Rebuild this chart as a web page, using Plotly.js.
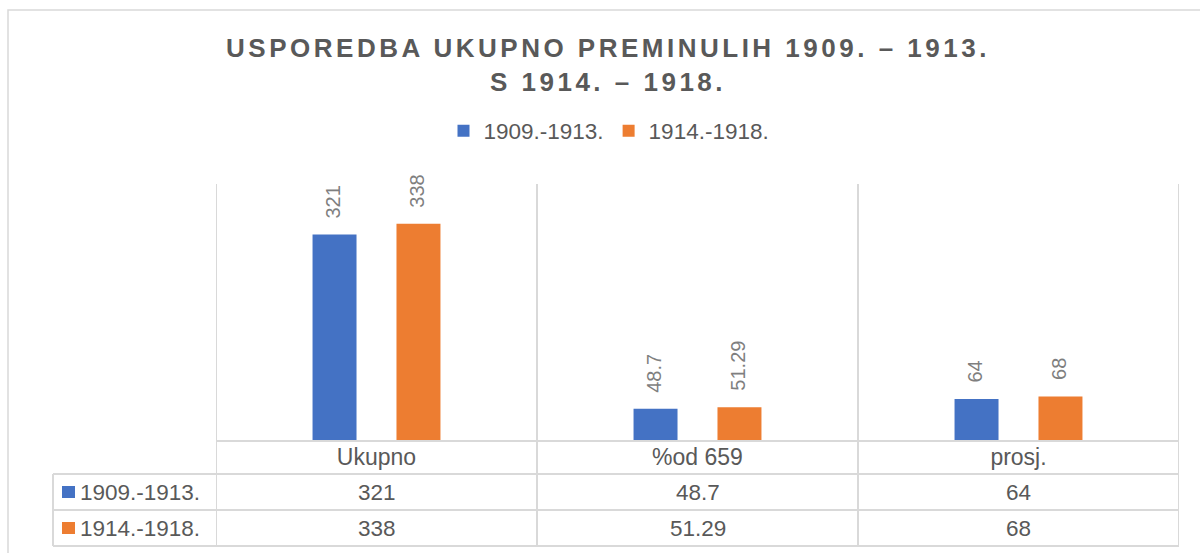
<!DOCTYPE html>
<html>
<head>
<meta charset="utf-8">
<script src="https://cdn.plot.ly/plotly-3.0.1.min.js"></script>
<style>
  html, body { margin: 0; padding: 0; background: #fff; }
  .gtitle { letter-spacing: 3.5px; }
</style>
</head>
<body>
<div id="chart" style="width:1200px;height:553px;"></div>
<script>
// ---- data ----
const categories = ['Ukupno', '%od 659', 'prosj.'];
const seriesNames = ['1909.-1913.', '1914.-1918.'];
const values1909 = [321, 48.7, 64];
const values1914 = [338, 51.29, 68];
const seriesValues = [values1909, values1914];
const seriesColors = ['#4472c4', '#ed7d31'];

// ---- geometry helpers (pixel -> paper) ----
const L = 216, R = 1179, T = 184, B = 440;
const px2x = p => (p - L) / (R - L);
const px2y = p => (B - p) / (B - T);

const FONT = 'Liberation Sans, Arial, sans-serif';
const TXT = '#595959';
const GRID = '#d9d9d9';

const traces = seriesNames.map((name, i) => ({
  type: 'bar',
  name: name,
  x: categories,
  y: seriesValues[i],
  marker: { color: seriesColors[i] },
  hoverinfo: 'none'
}));

const shapes = [];
const annotations = [];

// chart border
shapes.push({ type: 'rect', xref: 'paper', yref: 'paper',
  x0: px2x(8), x1: px2x(1230), y0: px2y(10), y1: px2y(580),
  line: { color: GRID, width: 1.5 }, fillcolor: 'rgba(0,0,0,0)', layer: 'below' });

// vertical category separators (plot + table)
for (let k = 0; k <= categories.length; k++) {
  shapes.push({ type: 'line', xref: 'x', yref: 'paper',
    x0: k - 0.5, x1: k - 0.5, y0: px2y(546), y1: 1,
    line: { color: GRID, width: 2 } });
}
// table horizontal lines
[474, 510, 546].forEach(p => {
  shapes.push({ type: 'line', xref: 'paper', yref: 'paper',
    x0: px2x(53), x1: 1, y0: px2y(p), y1: px2y(p),
    line: { color: GRID, width: 2 } });
});
// table left edge
shapes.push({ type: 'line', xref: 'paper', yref: 'paper',
  x0: px2x(53), x1: px2x(53), y0: px2y(474), y1: px2y(546),
  line: { color: GRID, width: 2 } });

// table rows
const rowCenters = [492, 528];
seriesNames.forEach((name, i) => {
  const yc = rowCenters[i];
  shapes.push({ type: 'rect', xref: 'paper', yref: 'paper',
    x0: px2x(62), x1: px2x(75), y0: px2y(yc - 6), y1: px2y(yc + 6),
    line: { width: 0 }, fillcolor: seriesColors[i] });
  annotations.push({ xref: 'paper', yref: 'paper', x: px2x(78), y: px2y(yc),
    xanchor: 'left', yanchor: 'middle', showarrow: false, text: name,
    font: { family: FONT, size: 22.5, color: TXT } });
  categories.forEach((c, j) => {
    annotations.push({ xref: 'x', yref: 'paper', x: c, y: px2y(yc),
      xanchor: 'center', yanchor: 'middle', showarrow: false,
      text: String(seriesValues[i][j]),
      font: { family: FONT, size: 22.5, color: TXT } });
  });
});

// data labels (rotated)
seriesNames.forEach((name, i) => {
  categories.forEach((c, j) => {
    annotations.push({ xref: 'x', yref: 'y', x: c, y: seriesValues[i][j],
      xshift: i === 0 ? -43 : 41, yshift: 14,
      xanchor: 'center', yanchor: 'bottom', showarrow: false, textangle: -90,
      text: String(seriesValues[i][j]),
      font: { family: FONT, size: 20, color: '#7f7f7f' } });
  });
});

const layout = {
  width: 1200, height: 553, autosize: false,
  margin: { l: L, r: 1200 - R, t: T, b: 553 - B, pad: 0 },
  paper_bgcolor: '#ffffff', plot_bgcolor: '#ffffff',
  font: { family: FONT, color: TXT },
  title: {
    text: 'USPOREDBA UKUPNO PREMINULIH 1909. – 1913.<br>S 1914. – 1918.',
    font: { family: FONT, size: 26, color: TXT, weight: 'bold' },
    x: 608 / 1200, xref: 'container', xanchor: 'center',
    y: 1 - 57 / 553, yref: 'container', yanchor: 'top'
  },
  barmode: 'group',
  bargap: 0.477,
  bargroupgap: 0.476,
  showlegend: true,
  legend: {
    orientation: 'h', x: px2x(609), xanchor: 'center',
    y: px2y(131), yanchor: 'middle',
    font: { family: FONT, size: 22.5, color: TXT },
    bgcolor: 'rgba(0,0,0,0)'
  },
  xaxis: {
    type: 'category', range: [-0.5, 2.5], fixedrange: true,
    showgrid: false, zeroline: false,
    showline: true, linecolor: GRID, linewidth: 2,
    ticks: '', ticklabelstandoff: -5,
    tickfont: { family: FONT, size: 23, color: TXT }
  },
  yaxis: {
    range: [0, 400], fixedrange: true, visible: false,
    showgrid: false, zeroline: false
  },
  shapes: shapes,
  annotations: annotations
};

Plotly.newPlot('chart', traces, layout, { displayModeBar: false, staticPlot: true });
</script>
</body>
</html>
